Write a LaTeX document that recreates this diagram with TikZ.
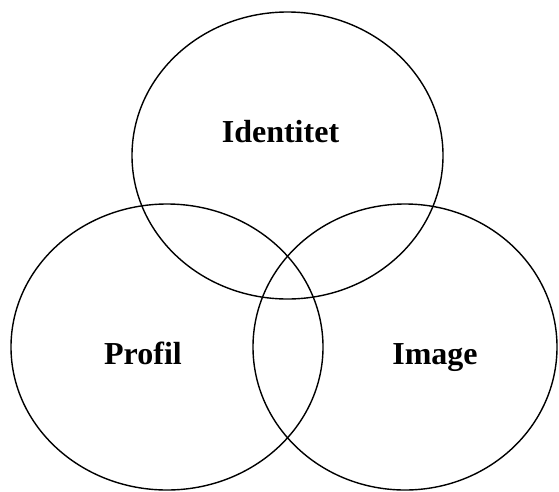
\documentclass[tikz,border=0pt]{standalone}
\usepackage{fontspec}
\setmainfont{Liberation Serif}
\usetikzlibrary{shapes.geometric, positioning}
\tikzset{
  setring/.style={ellipse, draw=black, line width=1.4pt, inner sep=0pt},
  setlbl/.style={font=\fontsize{32}{36}\selectfont\bfseries, text=black, anchor=base},
}

\begin{document}
\begin{tikzpicture}[x=1pt, y=-1pt]
  \useasboundingbox (0,0) rectangle (559,491);
  \node (ident) [setring, minimum width=311pt, minimum height=287pt] at (287.5,155.5) {};
  \node (prof)  [setring, minimum width=312pt, minimum height=286pt] at (167,347)     {};
  \node (img)   [setring, minimum width=304pt, minimum height=286pt] at (405,347)     {};

  \node (identlbl) [setlbl] at (280.5,142) {Identitet};
  \node (proflbl)  [setlbl] at (143,364)   {Profil};
  \node (imglbl)   [setlbl] at (435,364)   {Image};
\end{tikzpicture}
\end{document}
